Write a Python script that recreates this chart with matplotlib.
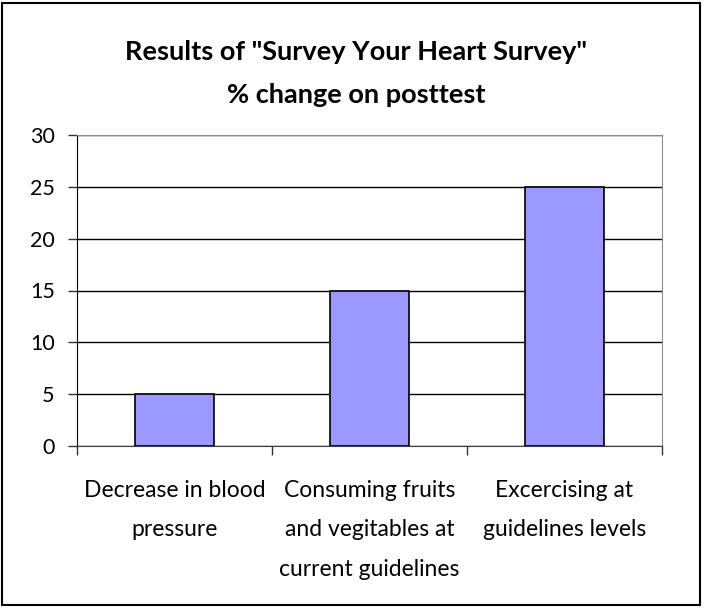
import matplotlib
matplotlib.use("Agg")
import matplotlib.pyplot as plt
from matplotlib.patches import Rectangle

categories = ["Decrease in blood\npressure",
              "Consuming fruits\nand vegitables at\ncurrent guidelines",
              "Excercising at\nguidelines levels"]
values = [5, 15, 25]
yticks = [0, 5, 10, 15, 20, 25, 30]

plt.rcParams['font.family'] = ['Lato', 'DejaVu Sans']

fig = plt.figure(figsize=(7.04, 6.08), dpi=100)
W, H = 704, 608
ax = fig.add_axes([77 / W, 1 - 446 / H, (662 - 77) / W, (446 - 135) / H])

x = range(len(values))
ax.bar(x, values, width=0.407, color='#9999FF', edgecolor='black', linewidth=1.2, zorder=3)

ax.set_xlim(-0.5, len(values) - 0.5)
ax.set_ylim(0, 30)
ax.set_yticks(yticks)
ax.set_yticklabels([str(v) for v in yticks], fontsize=15.5)
ax.yaxis.grid(True, color='black', linewidth=1)
ax.set_axisbelow(True)

ax.set_xticks([-0.5, 0.5, 1.5, 2.5])
ax.set_xticklabels([])
ax.set_xticks(list(x), minor=True)
ax.set_xticklabels(categories, minor=True, fontsize=16.5, linespacing=2.08, va='top')
ax.tick_params(axis='x', which='minor', length=0, pad=24.5)
ax.tick_params(axis='x', which='major', direction='out', length=6.5, width=1, color='#333333')
ax.tick_params(axis='y', direction='out', length=6.5, width=1, pad=9.5, color='#333333')

for side in ['top', 'right']:
    ax.spines[side].set_color('#8c8c8c')
ax.spines['left'].set_color('black')
ax.spines['bottom'].set_color('#404040')

fig.text(356 / W, 1 - 52 / H, 'Results of "Survey Your Heart Survey"', ha='center', va='center',
         fontsize=19.5, fontweight='bold')
fig.text(356 / W, 1 - 95 / H, '% change on posttest', ha='center', va='center',
         fontsize=19.5, fontweight='bold')

fig.patches.append(Rectangle((2 / W, 3 / H), 698 / W, 602 / H, transform=fig.transFigure,
                             fill=False, edgecolor='black', linewidth=1.5))

fig.savefig('out.png', dpi=100)
